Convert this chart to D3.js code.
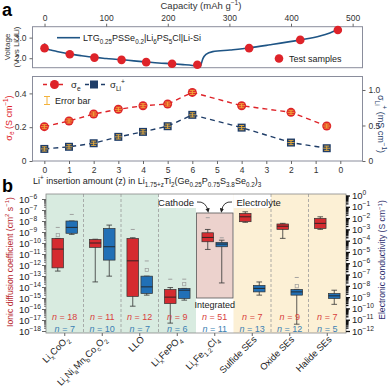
<!DOCTYPE html>
<html>
<head>
<meta charset="utf-8">
<script src="https://cdn.jsdelivr.net/npm/d3@7"></script>
<style>
  body { margin: 0; background: #fff; }
  svg { display: block; font-family: "Liberation Sans", Arial, sans-serif; }
</style>
</head>
<body>
<div id="chart"></div>
<script>
// ---------- panel a, voltage curve ----------
const capTicks = [0, 100, 200, 300, 400, 500];
const curveCap = [0, 1, 3, 10, 20, 40, 60, 81, 100, 125, 145, 165, 185, 207, 225, 240, 248, 252,
                  254, 257, 262, 273, 301, 332, 366, 415, 447, 463, 476];
const curveV   = [2.72, 2.6, 2.47, 2.4, 2.33, 2.21, 2.12, 2.04, 1.99, 1.93, 1.87, 1.82, 1.77, 1.73, 1.69, 1.65, 1.62, 1.56,
                  1.7, 1.98, 2.19, 2.32, 2.40, 2.5, 2.65, 2.89, 3.08, 3.23, 3.39];
const sampleCap = [0, 41, 81, 125, 165, 207, 248, 332, 415, 476];
const sampleV   = [2.49, 2.19, 2.03, 1.92, 1.81, 1.73, 1.68, 2.49, 2.89, 3.37];

// ---------- panel a, conductivities ----------
const zTickLabels = [0, 1, 2, 3, 4, 5, 6, 5, 4, 3, 2, 1, 0];
const zValues = [0, 1, 2, 3, 4, 5, 6, 4, 2, 0.55];
const zStage  = ['in', 'in', 'in', 'in', 'in', 'in', 'in', 'out', 'out', 'out'];
const sigmaE    = [0.203, 0.237, 0.278, 0.306, 0.327, 0.337, 0.406, 0.327, 0.288, 0.207];
const sigmaEErr = [0.012, 0.012, 0.012, 0.012, 0.012, 0.012, 0.012, 0.012, 0.012, 0.012];
const sigmaLi    = [0.17, 0.20, 0.25, 0.34, 0.41, 0.49, 0.65, 0.47, 0.26, 0.18];
const sigmaLiErr = [0.03, 0.03, 0.03, 0.03, 0.03, 0.03, 0.03, 0.03, 0.03, 0.03];

// ---------- panel b ----------
const categories = ['Li_{x}CoO_{2}', 'Li_{x}Ni_{a}Mn_{b}Co_{c}O_{2}', 'LLO', 'Li_{x}FePO_{4}',
                    'Li_{x}Fe_{1.2}Cl_{4}', 'Sulfide SEs', 'Oxide SEs', 'Halide SEs'];
// [low whisker, Q1, median, Q3, high whisker]
const ionBox = [
  [2.8e-13, 5.5e-13, 2.8e-11, 2.6e-10, 2.6e-10],
  [2.9e-14, 4.0e-11, 1.0e-10, 2.1e-10, 2.2e-10],
  [1.8e-16, 1.4e-15, 2.4e-12, 2.6e-10, 3.0e-10],
  [5.2e-18, 3.1e-16, 1.2e-15, 5.9e-15, 8.9e-15],
  [2.6e-11, 1.3e-10, 3.2e-10, 8.5e-10, 1.7e-9],
  [4.2e-3, 4.8e-3, 1.3e-2, 2.6e-2, 3.6e-2],
  [1.6e-4, 1.0e-3, 1.9e-3, 3.0e-3, 3.4e-3],
  [1.0e-3, 1.2e-3, 3.4e-3, 9.5e-3, 1.3e-2]
];
const ionMean = [5.2e-10, null, null, null, null, null, null, null];
const ionMax  = [2.6e-9, null, 1.7e-9, 5.1e-14, 2.0e-8, null, null, null];
const ionAxis = ['left', 'left', 'left', 'left', 'left', 'right', 'right', 'right'];
const elBox = [
  [3.6e-4, 4.5e-4, 1.5e-3, 5.5e-3, 5.5e-3],
  [7.2e-8, 1.9e-6, 2.9e-5, 1.2e-3, 2.4e-3],
  [1.5e-9, 2.1e-9, 8.1e-9, 7.2e-8, 7.2e-8],
  [5.4e-10, 7.6e-10, 4.1e-9, 5.9e-9, 5.9e-9],
  [1.8e-8, 2.9e-5, 5.0e-5, 7.1e-5, 1.1e-4],
  [1.5e-9, 2.9e-9, 5.9e-9, 1.1e-8, 2.2e-8],
  [4.0e-12, 1.5e-9, 2.9e-9, 4.8e-9, 4.8e-9],
  [2.3e-10, 7.6e-10, 1.3e-9, 2.1e-9, 4.1e-9]
];
const elMean = [null, null, 2.5e-7, 1.4e-8, null, null, 9.3e-9, null];
const elMax  = [2.1e-2, null, 1.6e-6, 3.9e-8, 1.8e-4, null, 5.5e-8, null];
const nIon = [18, 11, 12, 9, 51, 7, 9, 7];
const nEl  = [7, 10, 7, 6, 11, 13, 12, 5];
const leftDecades  = d3.range(-18, -5);
const rightDecades = d3.range(-12, 1);

const FONT = '"Liberation Sans", Arial, sans-serif';
const RED = '#de2329', NAVY = '#1f3d68';

const svg = d3.select('#chart').append('svg')
  .attr('width', 390)
  .attr('height', 387);

// writes text with _{sub} and ^{sup} parts as tspans
function rich(sel, str, size) {
  const parts = str.split(/(_\{[^}]*\}|\^\{[^}]*\})/).filter(s => s !== '');
  let off = 0;
  parts.forEach(p => {
    let mode = null, t = p;
    if (p.startsWith('_{')) { mode = 'sub'; t = p.slice(2, -1); }
    else if (p.startsWith('^{')) { mode = 'sup'; t = p.slice(2, -1); }
    const target = mode === 'sup' ? -size * 0.4 : mode === 'sub' ? size * 0.3 : 0;
    sel.append('tspan')
      .attr('dy', target - off)
      .style('font-size', (mode ? size * 0.7 : size) + 'px')
      .text(t);
    off = target;
  });
  return sel;
}

function styleAxis(g, size) {
  g.attr('font-family', FONT).attr('font-size', size);
  g.selectAll('.tick line').attr('stroke', '#666');
  g.selectAll('.tick text').attr('fill', '#333');
  g.select('.domain').remove();
}

// panel letters
svg.append('text').attr('x', 2).attr('y', 16).text('a')
  .style('font-size', '18px').style('font-weight', 'bold');
svg.append('text').attr('x', 2).attr('y', 192).text('b')
  .style('font-size', '18px').style('font-weight', 'bold');

// ================= top: voltage profile =================
const xCap = d3.scaleLinear().domain([-19.5, 516]).range([32.5, 362.5]);
const yV = d3.scaleLinear().domain([1.54, 3.53]).range([67.7, 26.7]);

svg.append('rect')
  .attr('x', 32.5).attr('y', 26.7).attr('width', 330).attr('height', 41)
  .attr('fill', 'none').attr('stroke', '#8a8d9c');

svg.append('g')
  .attr('transform', 'translate(0,26.7)')
  .call(d3.axisTop(xCap).tickValues(capTicks).tickSize(3))
  .call(g => styleAxis(g, 8.5));

svg.append('g')
  .attr('transform', 'translate(32.5,0)')
  .call(d3.axisLeft(yV).tickValues([2, 3]).tickSize(3))
  .call(g => styleAxis(g, 8.5));

rich(svg.append('text').attr('x', 201).attr('y', 9).attr('text-anchor', 'middle').attr('fill', '#333'),
  'Capacity (mAh g^{−1})', 9.5);

rich(svg.append('text').attr('transform', 'translate(10,47) rotate(-90)')
  .attr('text-anchor', 'middle').attr('fill', '#333'), 'Voltage', 8);
rich(svg.append('text').attr('transform', 'translate(19,47) rotate(-90)')
  .attr('text-anchor', 'middle').attr('fill', '#333'), '(V vs Li^{+}/Li)', 8);

const vLine = d3.line()
  .x((d, i) => xCap(curveCap[i]))
  .y(d => yV(d))
  .curve(d3.curveMonotoneX);
svg.append('path')
  .attr('d', vLine(curveV))
  .attr('fill', 'none').attr('stroke', '#1f5585').attr('stroke-width', 1.6);

svg.selectAll('.sample')
  .data(sampleV)
  .enter()
  .append('circle')
  .attr('class', 'sample')
  .attr('cx', (d, i) => xCap(sampleCap[i]))
  .attr('cy', d => yV(d))
  .attr('r', 4.3)
  .attr('fill', RED);

// legend
svg.append('line').attr('x1', 57).attr('x2', 80).attr('y1', 37.7).attr('y2', 37.7)
  .attr('stroke', '#1f5585').attr('stroke-width', 1.6);
rich(svg.append('text').attr('x', 83).attr('y', 41).attr('fill', '#222'),
  'LTG_{0.25}PSSe_{0.2}|Li_{6}PS_{5}Cl|Li-Si', 9);
svg.append('circle').attr('cx', 279).attr('cy', 58.5).attr('r', 4.3).attr('fill', RED);
svg.append('text').attr('x', 289).attr('y', 61.5).text('Test samples')
  .attr('fill', '#222').style('font-size', '9px');

// ================= middle: conductivities =================
const xZ = d3.scaleLinear().domain([-0.48, 12.9]).range([32.5, 362.5]);
const yE = d3.scaleLinear().domain([0, 0.5]).range([161, 76.5]);
const yLi = d3.scaleLinear().domain([0, 1.19]).range([161, 76.5]);
const zPos = i => zStage[i] === 'in' ? zValues[i] : 12 - zValues[i];

svg.append('rect')
  .attr('x', 32.5).attr('y', 76.5).attr('width', 330).attr('height', 84.5)
  .attr('fill', 'none').attr('stroke', '#8a8d9c');

svg.append('g')
  .attr('transform', 'translate(0,161)')
  .call(d3.axisBottom(xZ).tickValues(d3.range(13)).tickSize(3).tickFormat(i => zTickLabels[i]))
  .call(g => styleAxis(g, 8.5));

svg.append('g')
  .attr('transform', 'translate(32.5,0)')
  .call(d3.axisLeft(yE).tickValues([0, 0.2, 0.4]).tickSize(3).tickFormat(d => d === 0 ? '0' : d3.format('.1f')(d)))
  .call(g => styleAxis(g, 8.5));

svg.append('g')
  .attr('transform', 'translate(362.5,0)')
  .call(d3.axisRight(yLi).tickValues([0, 0.5, 1.0]).tickSize(3).tickFormat(d => d === 0 ? '0' : d3.format('.1f')(d)))
  .call(g => styleAxis(g, 8.5));

rich(svg.append('text').attr('transform', 'translate(11.5,118) rotate(-90)')
  .attr('text-anchor', 'middle').attr('fill', RED), 'σ_{e} (S cm^{−1})', 9);
rich(svg.append('text').attr('transform', 'translate(378,124) rotate(90)')
  .attr('text-anchor', 'middle').attr('fill', NAVY), 'σ_{Li}^{+} (mS cm^{−1})', 9);
rich(svg.append('text').attr('x', 33).attr('y', 184).attr('fill', '#222'),
  'Li^{+} insertion amount (z) in Li_{1.75+z}Ti_{2}(Ge_{0.25}P_{0.75}S_{3.8}Se_{0.2})_{3}', 9);

const eLine = d3.line().x((d, i) => xZ(zPos(i))).y(d => yE(d));
const liLine = d3.line().x((d, i) => xZ(zPos(i))).y(d => yLi(d));

svg.append('path').attr('d', eLine(sigmaE))
  .attr('fill', 'none').attr('stroke', RED).attr('stroke-width', 1.4).attr('stroke-dasharray', '5,4');
svg.append('path').attr('d', liLine(sigmaLi))
  .attr('fill', 'none').attr('stroke', NAVY).attr('stroke-width', 1.4).attr('stroke-dasharray', '5,4');

const ERR = '#f3b23a';
function errBar(x, yc, yTop, yBot) {
  svg.append('line').attr('x1', x).attr('x2', x).attr('y1', yTop).attr('y2', yBot)
    .attr('stroke', ERR).attr('stroke-width', 0.9);
  [yTop, yBot].forEach(yy => svg.append('line').attr('x1', x - 2.5).attr('x2', x + 2.5)
    .attr('y1', yy).attr('y2', yy).attr('stroke', ERR).attr('stroke-width', 0.9));
  svg.append('line').attr('x1', x - 3.5).attr('x2', x + 3.5).attr('y1', yc).attr('y2', yc)
    .attr('stroke', ERR).attr('stroke-width', 0.9);
}

svg.selectAll('.pe')
  .data(sigmaE)
  .enter()
  .append('circle')
  .attr('class', 'pe')
  .attr('cx', (d, i) => xZ(zPos(i)))
  .attr('cy', d => yE(d))
  .attr('r', 4.5)
  .attr('fill', RED);
sigmaE.forEach((d, i) => errBar(xZ(zPos(i)), yE(d), yE(d + sigmaEErr[i]), yE(d - sigmaEErr[i])));

svg.selectAll('.pl')
  .data(sigmaLi)
  .enter()
  .append('rect')
  .attr('class', 'pl')
  .attr('x', (d, i) => xZ(zPos(i)) - 4)
  .attr('y', d => yLi(d) - 4)
  .attr('width', 8).attr('height', 8)
  .attr('fill', NAVY);
sigmaLi.forEach((d, i) => errBar(xZ(zPos(i)), yLi(d), yLi(d + sigmaLiErr[i]), yLi(d - sigmaLiErr[i])));

// legend
svg.append('line').attr('x1', 43).attr('x2', 65).attr('y1', 84.5).attr('y2', 84.5)
  .attr('stroke', RED).attr('stroke-width', 1.4).attr('stroke-dasharray', '4,4');
svg.append('circle').attr('cx', 54.5).attr('cy', 84.5).attr('r', 4.5).attr('fill', RED);
rich(svg.append('text').attr('x', 71).attr('y', 88).attr('fill', '#222'), 'σ_{e}', 9.5);
svg.append('line').attr('x1', 85).attr('x2', 105).attr('y1', 84.5).attr('y2', 84.5)
  .attr('stroke', NAVY).attr('stroke-width', 1.4).attr('stroke-dasharray', '4,4');
svg.append('rect').attr('x', 90).attr('y', 80.5).attr('width', 8).attr('height', 8).attr('fill', NAVY);
rich(svg.append('text').attr('x', 110).attr('y', 88).attr('fill', '#222'), 'σ_{Li}^{+}', 9.5);
svg.append('line').attr('x1', 47).attr('x2', 47).attr('y1', 96.5).attr('y2', 104.5)
  .attr('stroke', ERR).attr('stroke-width', 1);
[96.5, 104.5].forEach(yy => svg.append('line').attr('x1', 44).attr('x2', 50)
  .attr('y1', yy).attr('y2', yy).attr('stroke', ERR).attr('stroke-width', 1));
svg.append('text').attr('x', 55).attr('y', 104).text('Error bar')
  .attr('fill', '#222').style('font-size', '9px');

// ================= bottom: box plots =================
const plotTop = 194, plotBottom = 333, plotLeft = 46, plotRight = 346;
const bx = d3.scaleBand().domain(d3.range(categories.length)).range([plotLeft, plotRight]);
const bw = bx.bandwidth();
const yL = d3.scaleLog().domain([1e-18, 1e-6]).range([331, 199]);
const yR = d3.scaleLog().domain([1e-12, 1]).range([331, 195.5]);

// region backgrounds
svg.append('rect').attr('x', plotLeft).attr('y', plotTop).attr('width', bx(4) - plotLeft).attr('height', plotBottom - plotTop)
  .attr('fill', '#d8ebe0');
svg.append('rect').attr('x', bx(5)).attr('y', plotTop).attr('width', plotRight - bx(5)).attr('height', plotBottom - plotTop)
  .attr('fill', '#fcf0d5');
svg.append('rect').attr('x', bx(3)).attr('y', plotTop).attr('width', bw).attr('height', 14).attr('fill', '#fff');
svg.append('rect').attr('x', bx(5)).attr('y', plotTop).attr('width', bw).attr('height', 14).attr('fill', '#fff');
svg.append('rect').attr('x', bx(4) + 0.5).attr('y', 213).attr('width', bw - 1).attr('height', 85)
  .attr('fill', '#ecd2cd').attr('stroke', '#555').attr('stroke-width', 0.8);

// dashed dividers
[1, 2, 3, 6, 7].forEach(i => svg.append('line')
  .attr('x1', bx(i)).attr('x2', bx(i)).attr('y1', plotTop).attr('y2', plotBottom)
  .attr('stroke', '#9a9a9a').attr('stroke-width', 0.8).attr('stroke-dasharray', '3,2'));

svg.append('rect').attr('x', plotLeft).attr('y', plotTop).attr('width', plotRight - plotLeft).attr('height', plotBottom - plotTop)
  .attr('fill', 'none').attr('stroke', '#888').attr('stroke-width', 0.8);

// labels Cathode / Electrolyte / Integrated
svg.append('text').attr('x', 194).attr('y', 205.5).attr('text-anchor', 'end').text('Cathode')
  .attr('fill', '#222').style('font-size', '9.5px');
svg.append('text').attr('x', 236.5).attr('y', 205.5).text('Electrolyte')
  .attr('fill', '#222').style('font-size', '9.5px');
svg.append('text').attr('x', bx(4) + bw / 2).attr('y', 308).attr('text-anchor', 'middle').text('Integrated')
  .attr('fill', '#222').style('font-size', '9px');

svg.append('defs').append('marker')
  .attr('id', 'arr').attr('viewBox', '0 0 10 10').attr('refX', 6).attr('refY', 5)
  .attr('markerWidth', 5).attr('markerHeight', 5).attr('orient', 'auto')
  .append('path').attr('d', 'M0,0 L10,5 L0,10 z').attr('fill', '#222');
svg.append('path').attr('d', 'M197,202 Q206,201 208,211')
  .attr('fill', 'none').attr('stroke', '#222').attr('stroke-width', 0.9).attr('marker-end', 'url(#arr)');
svg.append('path').attr('d', 'M232,202 Q223,201 221.5,211')
  .attr('fill', 'none').attr('stroke', '#222').attr('stroke-width', 0.9).attr('marker-end', 'url(#arr)');

// axes b
const minorOf = decs => decs.slice(0, -1).flatMap(e => d3.range(2, 10).map(m => m * Math.pow(10, e)));
svg.append('g').attr('transform', `translate(${plotLeft},0)`)
  .call(d3.axisLeft(yL).tickValues(leftDecades.map(e => Math.pow(10, e))).tickSize(4).tickFormat(''))
  .call(g => styleAxis(g, 9));
svg.append('g').attr('transform', `translate(${plotLeft},0)`)
  .call(d3.axisLeft(yL).tickValues(minorOf(leftDecades)).tickSize(2).tickFormat(''))
  .call(g => styleAxis(g, 9));
leftDecades.forEach(e => rich(svg.append('text').attr('x', 19).attr('y', yL(Math.pow(10, e)) + 3.5)
  .attr('fill', '#222'), '10^{−' + (-e) + '}', 9.5));

const rAxis = g => {
  g.attr('font-family', FONT);
  g.select('.domain').remove();
  g.selectAll('.tick line').attr('stroke', '#111').attr('stroke-width', 1.3);
};
svg.append('g').attr('transform', `translate(${plotRight},0)`)
  .call(d3.axisRight(yR).tickValues(rightDecades.map(e => Math.pow(10, e))).tickSize(4).tickFormat(''))
  .call(rAxis);
svg.append('g').attr('transform', `translate(${plotRight},0)`)
  .call(d3.axisRight(yR).tickValues(minorOf(rightDecades)).tickSize(2.5).tickFormat(''))
  .call(rAxis);
rightDecades.forEach(e => rich(svg.append('text').attr('x', 352).attr('y', yR(Math.pow(10, e)) + 3.5)
  .attr('fill', '#222'), e === 0 ? '10^{0}' : '10^{−' + (-e) + '}', 9.5));

svg.append('g').attr('transform', `translate(0,${plotBottom})`)
  .call(d3.axisBottom(bx).tickSize(3).tickFormat(''))
  .call(g => styleAxis(g, 9));

rich(svg.append('text').attr('transform', 'translate(12.5,262) rotate(-90)')
  .attr('text-anchor', 'middle').attr('fill', '#b8282e'), 'Ionic diffusion coefficient (cm^{2} s^{−1})', 8.6);
rich(svg.append('text').attr('transform', 'translate(385,260) rotate(-90)')
  .attr('text-anchor', 'middle').attr('fill', '#2e2f6e'), 'Electronic conductivity (S cm^{−1})', 8.6);

// category labels
categories.forEach((c, i) => {
  const cx = bx(i) + bw / 2;
  rich(svg.append('text')
    .attr('transform', `translate(${cx + 5},${plotBottom + 7}) rotate(-45)`)
    .attr('text-anchor', 'end').attr('fill', '#222'), c, 9.3);
});

// boxes
const BOXW = 11.6;
function drawBox(cx, stats, y, fill) {
  const [lo, q1, med, q3, hi] = stats;
  const g = svg.append('g');
  g.append('line').attr('x1', cx).attr('x2', cx).attr('y1', y(lo)).attr('y2', y(hi))
    .attr('stroke', '#333').attr('stroke-width', 0.8);
  [lo, hi].forEach(v => g.append('line').attr('x1', cx - 2.8).attr('x2', cx + 2.8)
    .attr('y1', y(v)).attr('y2', y(v)).attr('stroke', '#333').attr('stroke-width', 0.8));
  g.append('rect').attr('x', cx - BOXW / 2).attr('y', y(q3)).attr('width', BOXW)
    .attr('height', Math.max(1, y(q1) - y(q3)))
    .attr('fill', fill).attr('stroke', '#333').attr('stroke-width', 0.7);
  g.append('line').attr('x1', cx - BOXW / 2).attr('x2', cx + BOXW / 2).attr('y1', y(med)).attr('y2', y(med))
    .attr('stroke', '#222').attr('stroke-width', 0.9);
}
function drawExtras(cx, mean, max, y) {
  if (mean != null) svg.append('rect').attr('x', cx - 1.6).attr('y', y(mean) - 1.6).attr('width', 3.2).attr('height', 3.2)
    .attr('fill', 'none').attr('stroke', '#9a9a9a').attr('stroke-width', 0.7);
  if (max != null) svg.append('line').attr('x1', cx - 2).attr('x2', cx + 2).attr('y1', y(max)).attr('y2', y(max))
    .attr('stroke', '#9a9a9a').attr('stroke-width', 0.9);
}

categories.forEach((c, i) => {
  const cx = bx(i) + bw / 2;
  const yIon = ionAxis[i] === 'left' ? yL : yR;
  drawBox(cx - 7, ionBox[i], yIon, '#d52b30');
  drawExtras(cx - 7, ionMean[i], ionMax[i], yIon);
  drawBox(cx + 7, elBox[i], yR, '#2170b6');
  drawExtras(cx + 7, elMean[i], elMax[i], yR);

  const t1 = svg.append('text').attr('x', cx).attr('y', 320).attr('text-anchor', 'middle')
    .attr('fill', '#d8413c').style('font-size', '9px');
  t1.append('tspan').style('font-style', 'italic').text('n');
  t1.append('tspan').text(' = ' + nIon[i]);
  const t2 = svg.append('text').attr('x', cx).attr('y', 332).attr('text-anchor', 'middle')
    .attr('fill', '#3b7fb3').style('font-size', '9px');
  t2.append('tspan').style('font-style', 'italic').text('n');
  t2.append('tspan').text(' = ' + nEl[i]);
});
</script>
</body>
</html>
